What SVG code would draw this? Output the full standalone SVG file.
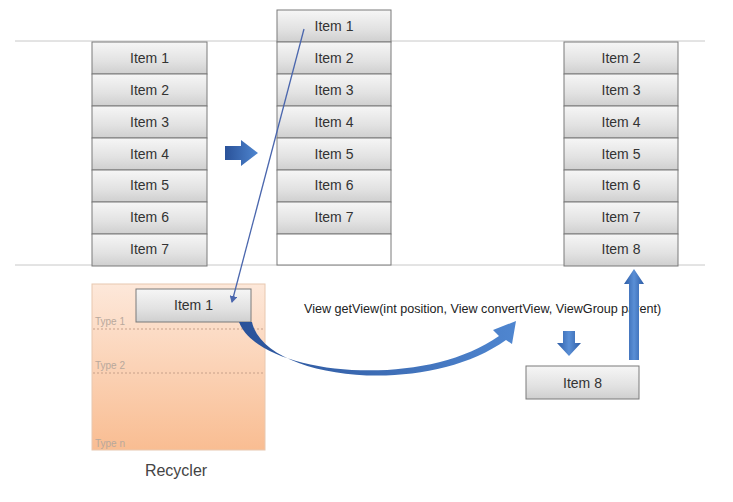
<svg xmlns="http://www.w3.org/2000/svg" width="733" height="502" viewBox="0 0 733 502">
<defs>
<linearGradient id="gBox" x1="0" y1="0" x2="0" y2="1">
<stop offset="0" stop-color="#f6f6f6"/>
<stop offset="0.6" stop-color="#e2e2e2"/>
<stop offset="1" stop-color="#cfcfcf"/>
</linearGradient>
<linearGradient id="gRec" x1="0" y1="0" x2="0" y2="1">
<stop offset="0" stop-color="#fde8da"/>
<stop offset="1" stop-color="#f9bd92"/>
</linearGradient>
<linearGradient id="gArrow" x1="0" y1="0" x2="1" y2="0">
<stop offset="0" stop-color="#2a5299"/>
<stop offset="1" stop-color="#4f86d0"/>
</linearGradient>
<linearGradient id="gArrowV" x1="0" y1="0" x2="1" y2="0">
<stop offset="0" stop-color="#2d5ca6"/>
<stop offset="0.5" stop-color="#5a8fd6"/>
<stop offset="1" stop-color="#2d5ca6"/>
</linearGradient>
<marker id="mThin" markerWidth="8" markerHeight="8" refX="6" refY="4" orient="auto" markerUnits="userSpaceOnUse">
<path d="M0,0 L7,4 L0,8 z" fill="#4a66ad"/>
</marker>
</defs>
<style>
.box{fill:url(#gBox);stroke:#7a7a7a;stroke-width:1}
.empty{fill:#ffffff;stroke:#7a7a7a;stroke-width:1}
.lbl{font-family:"Liberation Sans",Arial,sans-serif;font-size:14px;fill:#333;text-anchor:middle}
.type{font-family:"Liberation Sans",Arial,sans-serif;font-size:10px;fill:#b8a89c}
.guide{stroke:#c8c8c8;stroke-width:1}
.dash{stroke:#c7a08a;stroke-width:1;stroke-dasharray:2,2}
</style>
<rect width="733" height="502" fill="#ffffff"/>
<line class="guide" x1="15" y1="41" x2="705" y2="41"/>
<line class="guide" x1="15" y1="265" x2="705" y2="265"/>

<g id="recycler">
<rect x="92" y="284" width="173" height="166" fill="url(#gRec)" stroke="#e8c8b0" stroke-width="1"/>
<line class="dash" x1="93" y1="329" x2="264" y2="329"/>
<line class="dash" x1="93" y1="373" x2="264" y2="373"/>
<text class="type" x="95" y="325">Type 1</text>
<text class="type" x="95" y="369">Type 2</text>
<text class="type" x="95" y="447">Type n</text>
<text x="176" y="476" font-family="'Liberation Sans',Arial,sans-serif" font-size="16" fill="#444" text-anchor="middle">Recycler</text>
</g>

<g id="col1">
<rect class="box" x="92" y="42" width="115" height="32"/><text class="lbl" x="149.5" y="63">Item 1</text>
<rect class="box" x="92" y="74" width="115" height="32"/><text class="lbl" x="149.5" y="95">Item 2</text>
<rect class="box" x="92" y="106" width="115" height="32"/><text class="lbl" x="149.5" y="127">Item 3</text>
<rect class="box" x="92" y="138" width="115" height="32"/><text class="lbl" x="149.5" y="159">Item 4</text>
<rect class="box" x="92" y="170" width="115" height="32"/><text class="lbl" x="149.5" y="190">Item 5</text>
<rect class="box" x="92" y="202" width="115" height="32"/><text class="lbl" x="149.5" y="222">Item 6</text>
<rect class="box" x="92" y="234" width="115" height="32"/><text class="lbl" x="149.5" y="254">Item 7</text>
</g>

<g id="col2">
<rect class="box" x="277" y="10" width="114" height="32"/><text class="lbl" x="334" y="31">Item 1</text>
<rect class="box" x="277" y="42" width="114" height="32"/><text class="lbl" x="334" y="63">Item 2</text>
<rect class="box" x="277" y="74" width="114" height="32"/><text class="lbl" x="334" y="95">Item 3</text>
<rect class="box" x="277" y="106" width="114" height="32"/><text class="lbl" x="334" y="127">Item 4</text>
<rect class="box" x="277" y="138" width="114" height="32"/><text class="lbl" x="334" y="159">Item 5</text>
<rect class="box" x="277" y="170" width="114" height="32"/><text class="lbl" x="334" y="190">Item 6</text>
<rect class="box" x="277" y="202" width="114" height="32"/><text class="lbl" x="334" y="222">Item 7</text>
<rect class="empty" x="277" y="234" width="114" height="31"/>
</g>

<g id="col3">
<rect class="box" x="564" y="42" width="114" height="32"/><text class="lbl" x="621" y="63">Item 2</text>
<rect class="box" x="564" y="74" width="114" height="32"/><text class="lbl" x="621" y="95">Item 3</text>
<rect class="box" x="564" y="106" width="114" height="32"/><text class="lbl" x="621" y="127">Item 4</text>
<rect class="box" x="564" y="138" width="114" height="32"/><text class="lbl" x="621" y="159">Item 5</text>
<rect class="box" x="564" y="170" width="114" height="32"/><text class="lbl" x="621" y="190">Item 6</text>
<rect class="box" x="564" y="202" width="114" height="32"/><text class="lbl" x="621" y="222">Item 7</text>
<rect class="box" x="564" y="234" width="114" height="32"/><text class="lbl" x="621" y="254">Item 8</text>
</g>

<g id="recycledItem1">
<rect class="box" x="136" y="289" width="115" height="33"/><text class="lbl" x="193.5" y="310">Item 1</text>
</g>

<g id="item8">
<rect class="box" x="526" y="366" width="113" height="33"/><text class="lbl" x="582.5" y="388">Item 8</text>
</g>

<text x="304" y="313" font-family="'Liberation Sans',Arial,sans-serif" font-size="12.6" fill="#222">View getView(int position, View convertView, ViewGroup parent)</text>

<g id="connectors">
<path d="M225,146 L241,146 L241,140 L258,153 L241,166 L241,160 L225,160 Z" fill="url(#gArrow)"/>
<line x1="304" y1="29" x2="232" y2="302" stroke="#4a66ad" stroke-width="1.3" marker-end="url(#mThin)"/>
<path d="M239,322 C258,374 420,392 499,336 L493,330 L516,321 L512,344 L506,340 C425,398 265,380 252,322 Z" fill="url(#gArrow)"/>
<path d="M563,331 L575,331 L575,343 L581,343 L569,356 L557,343 L563,343 Z" fill="url(#gArrowV)"/>
<path d="M629,360 L629,284 L624,284 L634,269 L644,284 L639,284 L639,360 Z" fill="url(#gArrowV)"/>
</g>
</svg>
